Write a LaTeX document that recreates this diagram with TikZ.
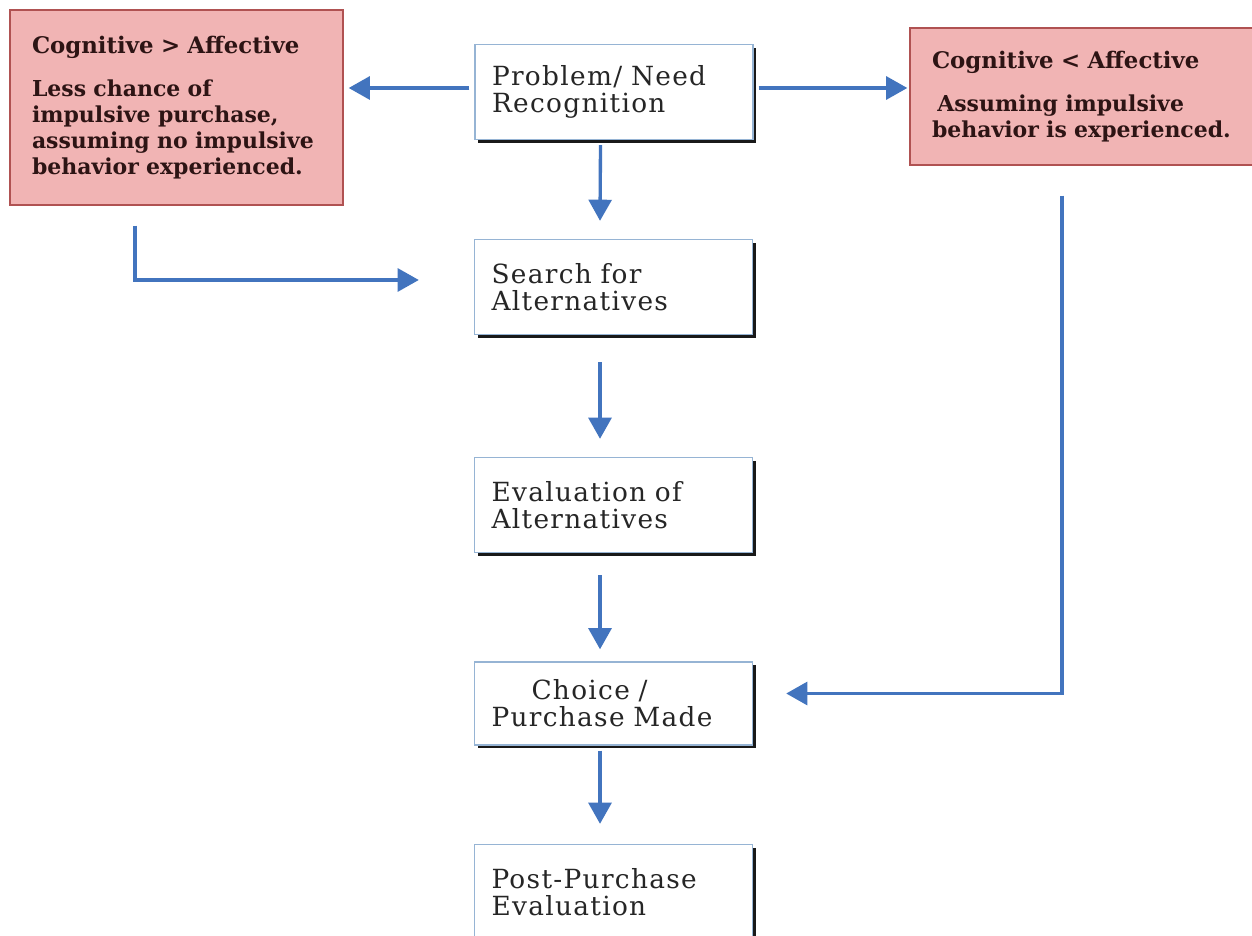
\documentclass[tikz,border=0pt]{standalone}
\usepackage{fontspec}
\setmainfont{DejaVu Serif}
\newfontfamily\stepfont[LetterSpace=5]{DejaVu Serif}
\usetikzlibrary{positioning,shadows,arrows.meta,calc}
\definecolor{pinkfill}{RGB}{241,180,180}
\definecolor{pinkline}{RGB}{176,82,82}
\definecolor{pinktext}{RGB}{45,20,20}
\definecolor{arrowblue}{RGB}{66,116,190}
\definecolor{boxline}{RGB}{150,180,212}

\begin{document}
\begin{tikzpicture}[
    stepbox/.style={draw=boxline,line width=0.8pt,fill=white,minimum width=5.56cm,minimum height=1.9cm,text width=4.88cm,align=left,inner xsep=0.34cm,font=\stepfont\fontsize{15}{15.5}\selectfont,text=black!85,drop shadow={shadow xshift=1.8pt,shadow yshift=-1.8pt,fill=black!90,opacity=1}},
    pinkbox/.style={draw=pinkline,line width=0.8pt,fill=pinkfill,inner xsep=0.44cm,align=left,text=pinktext,font=\bfseries\fontsize{12.5}{14.7}\selectfont},
    arr/.style={-{Triangle[length=12pt,width=13pt]},arrowblue,line width=1.9pt}]
    \useasboundingbox (0,0) rectangle (25.04,18.7);
    \fill[white] (0,0) rectangle (25.04,18.7);

    % Decision steps
    \node[stepbox] (problem) at (12.28,16.86) {Problem/ Need\\Recognition};
    \node[stepbox] (search) at (12.27,12.96) {Search for\\Alternatives};
    \node[stepbox] (evaluation) at (12.27,8.6) {Evaluation of\\Alternatives};
    \node[stepbox,minimum height=1.66cm] (choice) at (12.27,4.63) {\hspace*{0.8cm}Choice /\\Purchase Made};
    \node[stepbox] (post) at (12.27,0.86) {Post-Purchase\\Evaluation};

    % Cognitive vs affective cases
    \node[pinkbox,minimum width=6.66cm,minimum height=3.9cm,text width=5.78cm] (cogaff) at (3.53,16.55) {{\fontsize{13}{14.7}\selectfont Cognitive > Affective}\\[10pt]Less chance of\\impulsive purchase,\\assuming no impulsive\\behavior experienced.};
    \node[pinkbox,minimum width=7.04cm,minimum height=2.74cm,text width=6.16cm] (affcog) at (21.72,16.77) {{\fontsize{13}{14.7}\selectfont Cognitive < Affective}\\[10pt]\hspace*{3pt}Assuming impulsive\\behavior is experienced.};

    % Arrows
    \draw[arr] ($(problem.west)+(-0.1,0.08)$) -- ($(cogaff.east |- problem.west)+(0.1,0.08)$);
    \draw[arr] ($(problem.east)+(0.1,0.08)$) -- ($(affcog.west |- problem.east)+(-0.04,0.08)$);
    \foreach \a/\b/\s/\e in {problem/search/0.1/0.36,search/evaluation/0.54/0.36,evaluation/choice/0.44/0.24,choice/post/0.1/0.4}
        \draw[arr] ($(\a.south)+(-0.27,-\s)$) -- ($(\b.north)+(-0.27,\e)$);
    \draw[arr] ($(cogaff.south)+(-0.83,-0.4)$) |- ($(search.west)+(-1.1,0.14)$);
    \draw[arr] ($(affcog.south)+(-0.48,-0.6)$) |- ($(choice.east)+(0.66,0.2)$);
\end{tikzpicture}
\end{document}
